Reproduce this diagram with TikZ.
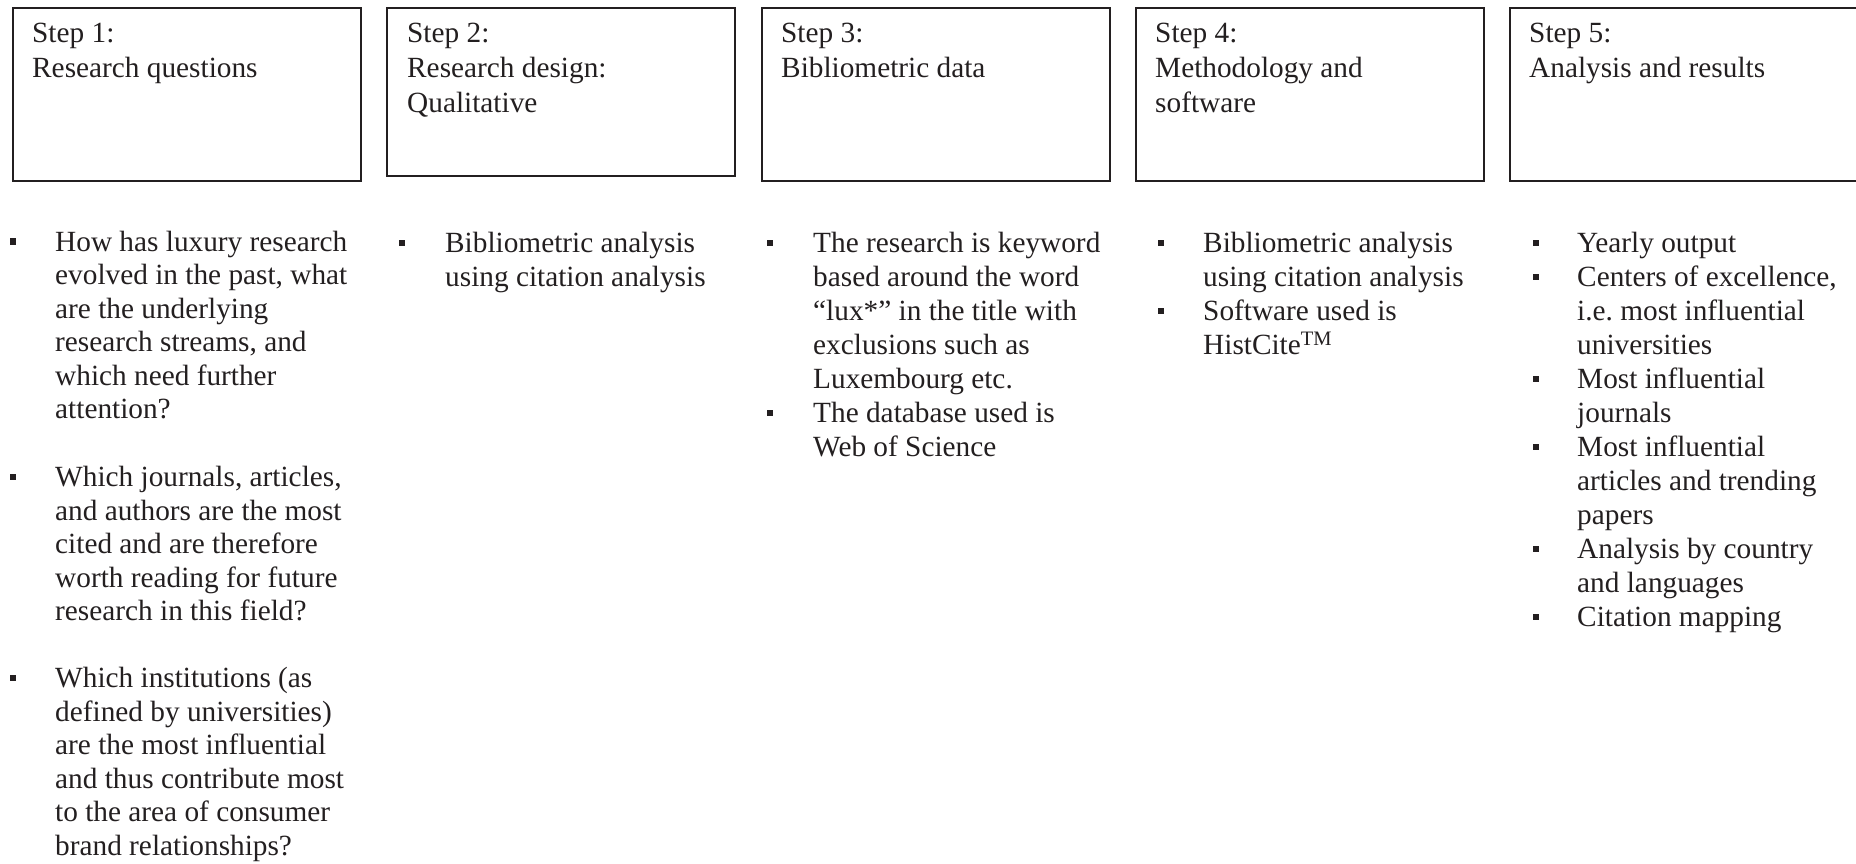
\documentclass[tikz,border=0pt]{standalone}
\usepackage{fontspec}
\setmainfont{Liberation Serif}
\frenchspacing
\definecolor{ink}{RGB}{35,31,32}
\tikzset{
  stepbox/.style={draw=ink, line width=1.7pt, rectangle, inner sep=0pt, anchor=north west, minimum width=348pt},
  % anchor base = baseline of the LAST line of a multi-line node
  head/.style={anchor=base west, inner sep=0pt, align=left, text=ink, font=\fontsize{29.3}{35}\selectfont},
  item/.style={anchor=base west, inner sep=0pt, align=left, text=ink, font=\fontsize{29.3}{33.5}\selectfont},
  itemb/.style={anchor=base west, inner sep=0pt, align=left, text=ink, font=\fontsize{29.3}{34}\selectfont},
  bul/.style={fill=ink, draw=none, rectangle, minimum size=6.8pt, inner sep=0pt},
}
\begin{document}
\begin{tikzpicture}[x=1pt, y=-1pt]
\useasboundingbox (0,0) rectangle (1856,863);
\begin{scope}
\clip (0,0) rectangle (1856,863);
% step boxes
\node[stepbox, minimum height=173pt] (s1) at (12,7) {};
\node[stepbox, minimum height=168pt] (s2) at (386,7) {};
\node[stepbox, minimum height=173pt] (s3) at (761,7) {};
\node[stepbox, minimum height=173pt] (s4) at (1135,7) {};
\node[stepbox, minimum height=173pt, minimum width=400pt] (s5) at (1509,7) {};
\end{scope}
% headings (positions = baseline of last line)
\node[head] (h1) at (32,77.5) {Step 1:\\Research questions};
\node[head] (h2) at (407,112.5) {Step 2:\\Research design:\\Qualitative};
\node[head] (h3) at (781,77.5) {Step 3:\\Bibliometric data};
\node[head] (h4) at (1155,112.5) {Step 4:\\Methodology and\\software};
\node[head] (h5) at (1529,77.5) {Step 5:\\Analysis and results};
% column 1
\node[bul] (b11) at (13,241.5) {};
\node[item] (t11) at (55,418.5) {How has luxury research\\evolved in the past, what\\are the underlying\\research streams, and\\which need further\\attention?};
\node[bul] (b12) at (13,477) {};
\node[item] (t12) at (55,620.5) {Which journals, articles,\\and authors are the most\\cited and are therefore\\worth reading for future\\research in this field?};
\node[bul] (b13) at (13,678) {};
\node[item] (t13) at (55,855) {Which institutions (as\\defined by universities)\\are the most influential\\and thus contribute most\\to the area of consumer\\brand relationships?};
% column 2
\node[bul] (b21) at (402,243) {};
\node[itemb] (t21) at (445,286.5) {Bibliometric analysis\\using citation analysis};
% column 3
\node[bul] (b31) at (770,243) {};
\node[itemb] (t31) at (813,388.5) {The research is keyword\\based around the word\\“lux*” in the title with\\exclusions such as\\Luxembourg etc.};
\node[bul] (b32) at (770,413) {};
\node[itemb] (t32) at (813,456.5) {The database used is\\Web of Science};
% column 4
\node[bul] (b41) at (1161,243) {};
\node[itemb] (t41) at (1203,286.5) {Bibliometric analysis\\using citation analysis};
\node[bul] (b42) at (1161,311) {};
\node[itemb] (t42) at (1203,354.5) {Software used is\\HistCite\textsuperscript{TM}};
% column 5
\node[bul] (b51) at (1536,243) {};
\node[itemb] (t51) at (1577,252.5) {Yearly output};
\node[bul] (b52) at (1536,277) {};
\node[itemb] (t52) at (1577,354.5) {Centers of excellence,\\i.e. most influential\\universities};
\node[bul] (b53) at (1536,379) {};
\node[itemb] (t53) at (1577,422.5) {Most influential\\journals};
\node[bul] (b54) at (1536,447) {};
\node[itemb] (t54) at (1577,524.5) {Most influential\\articles and trending\\papers};
\node[bul] (b55) at (1536,549) {};
\node[itemb] (t55) at (1577,592.5) {Analysis by country\\and languages};
\node[bul] (b56) at (1536,617) {};
\node[itemb] (t56) at (1577,626.5) {Citation mapping};
\end{tikzpicture}
\end{document}
